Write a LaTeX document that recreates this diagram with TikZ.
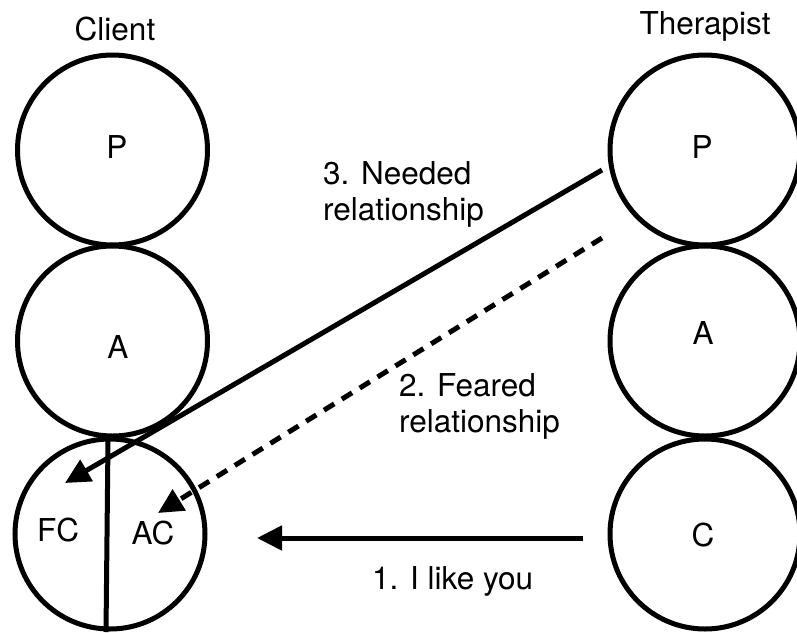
\documentclass[tikz,border=0pt]{standalone}
\usepackage{fontspec}
\setmainfont{TeX Gyre Heros}
\usetikzlibrary{arrows.meta}
\begin{document}
\begin{tikzpicture}[x=1pt,y=-1pt,
  ego/.style={circle,draw,line width=5pt,minimum size=190pt,inner sep=0pt},
  lbl/.style={font=\fontsize{31.5}{36}\selectfont,inner sep=0pt},
  link/.style={line width=5pt,-{Triangle[length=25pt,width=24pt]}},
  fear/.style={link,dash pattern=on 12pt off 9pt}]
\useasboundingbox (0,0) rectangle (797,632);
% client ego states
\node[ego] (cP) at (112.5,150) {};
\node[ego] (cA) at (112.5,341) {};
\node[ego] (cC) at (110,534) {};
% therapist ego states
\node[ego] (tP) at (705,150) {};
\node[ego] (tA) at (705,341) {};
\node[ego] (tC) at (705,534) {};
% column titles
\node[lbl] (client) at (115,29) {Client};
\node[lbl] (therapist) at (705,26) {Therapist};
% state letters
\node[lbl] (cPl) at (117,147) {P};
\node[lbl] (cAl) at (118,347) {A};
\node[lbl] (tPl) at (702,147) {P};
\node[lbl] (tAl) at (703,333) {A};
\node[lbl] (tCl) at (703,535) {C};
\node[lbl] (fc) at (58,530) {FC};
\node[lbl] (ac) at (153,533) {AC};
% split of the child state
\coordinate (splitTop) at (108,441);
\coordinate (splitBot) at (106,632);
\draw[line width=5pt] (splitTop) -- (splitBot);
% transactions
\coordinate (s1) at (583,538);
\coordinate (e1) at (257,538);
\coordinate (s2) at (602,238);
\coordinate (e2) at (158,513);
\coordinate (s3) at (602,170);
\coordinate (e3) at (65,483);
\draw[link] (s1) -- (e1);
\draw[fear] (s2) -- (e2);
\draw[link] (s3) -- (e3);
% transaction labels (anchored on the baseline of the last line)
\node[lbl,anchor=base west] (l1) at (372,589) {1. I like you};
\node[lbl,anchor=base west,align=left] (l2) at (399,432) {2. Feared\\relationship};
\node[lbl,anchor=base west,align=left] (l3) at (323,220) {3. Needed\\relationship};
\end{tikzpicture}
\end{document}
